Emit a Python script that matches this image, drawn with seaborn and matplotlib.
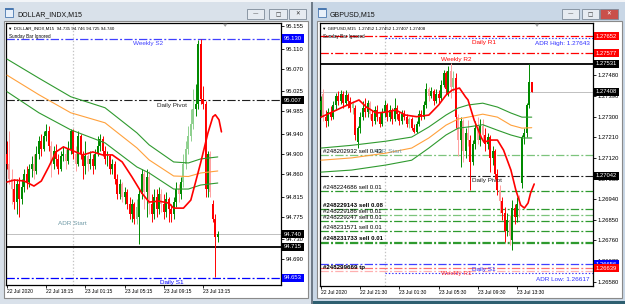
import numpy as np
import pandas as pd
import seaborn as sns
import matplotlib
matplotlib.use("Agg")
import matplotlib.pyplot as plt
from matplotlib.patches import Rectangle, Polygon
import matplotlib.transforms as mtransforms

# ---------------- DATA: DOLLAR_INDX M15 ----------------
dx_open = [94.900, 94.880, 94.850, 94.830, 94.805, 94.840, 94.810, 94.835, 94.860, 94.845,
           94.870, 94.880, 94.865, 94.900, 94.925, 94.910, 94.935, 94.945, 94.915, 94.880,
           94.905, 94.890, 94.870, 94.895, 94.900, 94.885, 94.910, 94.945, 94.900, 94.880,
           94.935, 94.900, 94.875, 94.895, 94.880, 94.890, 94.875, 94.900, 94.915, 94.930,
           94.905, 94.890, 94.895, 94.870, 94.880, 94.850, 94.820, 94.840, 94.815, 94.825,
           94.800, 94.780, 94.800, 94.770, 94.775, 94.820, 94.860, 94.825, 94.855, 94.800,
           94.780, 94.815, 94.790, 94.820, 94.800, 94.785, 94.810, 94.790, 94.780, 94.805,
           94.830, 94.820, 94.845, 94.880, 94.910, 94.935, 94.960, 94.990, 95.000, 95.120,
           95.010, 95.000, 94.830, 94.900, 94.800, 94.770, 94.735]
dx_high = [94.925, 94.945, 94.870, 94.850, 94.850, 94.855, 94.850, 94.870, 94.875, 94.880,
           94.895, 94.900, 94.915, 94.935, 94.940, 94.945, 94.960, 94.955, 94.925, 94.915,
           94.920, 94.900, 94.905, 94.915, 94.910, 94.925, 94.950, 94.950, 94.915, 94.945,
           94.940, 94.905, 94.925, 94.900, 94.905, 94.900, 94.910, 94.935, 94.940, 94.935,
           94.915, 94.905, 94.900, 94.890, 94.885, 94.860, 94.850, 94.845, 94.835, 94.830,
           94.815, 94.810, 94.805, 94.810, 94.830, 94.870, 94.865, 94.870, 94.865, 94.820,
           94.830, 94.830, 94.835, 94.830, 94.820, 94.825, 94.815, 94.800, 94.815, 94.845,
           94.840, 94.855, 94.900, 94.925, 94.955, 94.990, 95.030, 95.040, 95.127, 95.130,
           95.035, 95.005, 94.905, 94.905, 94.808, 94.780, 94.746]
dx_low = [94.870, 94.840, 94.800, 94.790, 94.780, 94.775, 94.800, 94.825, 94.830, 94.835,
          94.855, 94.850, 94.860, 94.890, 94.895, 94.905, 94.925, 94.905, 94.855, 94.870,
          94.875, 94.860, 94.865, 94.885, 94.870, 94.880, 94.900, 94.890, 94.865, 94.875,
          94.890, 94.850, 94.860, 94.865, 94.870, 94.860, 94.870, 94.895, 94.905, 94.895,
          94.880, 94.875, 94.860, 94.860, 94.840, 94.810, 94.810, 94.805, 94.800, 94.790,
          94.770, 94.765, 94.760, 94.760, 94.720, 94.810, 94.790, 94.775, 94.780, 94.765,
          94.770, 94.775, 94.780, 94.785, 94.770, 94.775, 94.765, 94.765, 94.770, 94.795,
          94.805, 94.810, 94.835, 94.870, 94.900, 94.925, 94.950, 94.975, 94.990, 95.000,
          94.990, 94.815, 94.815, 94.815, 94.765, 94.655, 94.725]
dx_close = [94.880, 94.850, 94.830, 94.805, 94.840, 94.810, 94.835, 94.860, 94.845, 94.870,
            94.880, 94.865, 94.900, 94.925, 94.910, 94.935, 94.945, 94.915, 94.880, 94.905,
            94.890, 94.870, 94.895, 94.900, 94.885, 94.910, 94.945, 94.900, 94.880, 94.935,
            94.900, 94.875, 94.895, 94.880, 94.890, 94.875, 94.900, 94.915, 94.930, 94.905,
            94.890, 94.895, 94.870, 94.880, 94.850, 94.820, 94.840, 94.815, 94.825, 94.800,
            94.780, 94.800, 94.770, 94.795, 94.820, 94.860, 94.825, 94.855, 94.800, 94.780,
            94.815, 94.790, 94.820, 94.800, 94.785, 94.810, 94.790, 94.780, 94.805, 94.830,
            94.820, 94.845, 94.880, 94.910, 94.935, 94.960, 94.990, 95.000, 95.120, 95.010,
            95.000, 94.830, 94.900, 94.825, 94.770, 94.735, 94.740]

# envelope / moving averages (bar index, value)
dx_env_bars = [0, 13, 26, 40, 53, 58, 68, 74, 79, 86]
dx_env_upper = [95.089, 95.051, 95.014, 94.992, 94.942, 94.918, 94.884, 94.882, 94.890, 94.894]
dx_env_mid = [95.057, 95.018, 94.982, 94.962, 94.912, 94.888, 94.856, 94.855, 94.862, 94.866]
dx_env_lower = [95.024, 94.982, 94.948, 94.922, 94.874, 94.862, 94.830, 94.830, 94.838, 94.842]
dx_ma_bars = [0, 3, 7, 11, 14, 17, 20, 23, 27, 31, 35, 39, 43, 47, 51, 55, 58, 62, 66, 68,
              72, 75, 79, 82, 84, 85, 86.5, 87.5]
dx_ma = [94.844, 94.848, 94.846, 94.836, 94.846, 94.874, 94.904, 94.914, 94.906, 94.898,
         94.904, 94.898, 94.898, 94.884, 94.854, 94.822, 94.804, 94.806, 94.802, 94.792,
         94.792, 94.808, 94.882, 94.942, 94.974, 94.978, 94.968, 94.944]

dx_yticks = [95.155, 95.110, 95.070, 95.025, 94.985, 94.940, 94.900, 94.860, 94.815,
             94.775, 94.730, 94.690, 94.649]
dx_time_bars = [0, 16, 32, 48, 64, 80]
dx_time_labels = ["22 Jul 2020", "22 Jul 18:15", "23 Jul 01:15", "23 Jul 05:15",
                  "23 Jul 09:15", "23 Jul 13:15"]
dx_weekly_s2 = 95.130
dx_daily_pivot = 95.007
dx_bid = 94.740
dx_level = 94.715
dx_daily_s1 = 94.653
dx_adr_start = 94.761
dx_header = "\u25bc DOLLAR_INDX,M15  94.735 94.746 94.725 94.740"

# ---------------- DATA: GBPUSD M15 ----------------
gu_open = [1.27330, 1.27400, 1.27300, 1.27280, 1.27320, 1.27300, 1.27350, 1.27390, 1.27370, 1.27400,
           1.27360, 1.27395, 1.27370, 1.27340, 1.27340, 1.27190, 1.27250, 1.27300, 1.27340, 1.27320,
           1.27360, 1.27310, 1.27280, 1.27330, 1.27300, 1.27270, 1.27320, 1.27350, 1.27300, 1.27330,
           1.27290, 1.27340, 1.27310, 1.27280, 1.27310, 1.27300, 1.27270, 1.27290, 1.27250, 1.27235,
           1.27270, 1.27310, 1.27300, 1.27350, 1.27420, 1.27390, 1.27410, 1.27370, 1.27400, 1.27380,
           1.27440, 1.27490, 1.27400, 1.27500, 1.27430, 1.27470, 1.27300, 1.27200, 1.27280, 1.27150,
           1.27230, 1.27200, 1.27100, 1.27180, 1.27250, 1.27200, 1.27260, 1.27220, 1.27180, 1.27210,
           1.27120, 1.27150, 1.27050, 1.26980, 1.26930, 1.26880, 1.26800, 1.26850, 1.26760, 1.26900,
           1.26860, 1.26920, 1.27010, 1.27210, 1.27230, 1.27350, 1.27452]
gu_high = [1.27390, 1.27420, 1.27330, 1.27340, 1.27345, 1.27370, 1.27405, 1.27410, 1.27416, 1.27410,
           1.27416, 1.27405, 1.27385, 1.27370, 1.27350, 1.27260, 1.27320, 1.27370, 1.27381, 1.27375,
           1.27370, 1.27330, 1.27345, 1.27350, 1.27320, 1.27340, 1.27375, 1.27360, 1.27350, 1.27340,
           1.27381, 1.27350, 1.27320, 1.27330, 1.27330, 1.27310, 1.27300, 1.27300, 1.27270, 1.27280,
           1.27330, 1.27330, 1.27370, 1.27446, 1.27430, 1.27430, 1.27420, 1.27420, 1.27415, 1.27460,
           1.27504, 1.27500, 1.27520, 1.27534, 1.27500, 1.27490, 1.27310, 1.27300, 1.27290, 1.27250,
           1.27285, 1.27220, 1.27200, 1.27280, 1.27298, 1.27290, 1.27290, 1.27250, 1.27230, 1.27220,
           1.27170, 1.27160, 1.27070, 1.27000, 1.26950, 1.26905, 1.26880, 1.26870, 1.26936, 1.26920,
           1.26950, 1.26960, 1.27220, 1.27250, 1.27360, 1.27531, 1.27452]
gu_low = [1.27300, 1.27280, 1.27255, 1.27260, 1.27285, 1.27290, 1.27330, 1.27350, 1.27355, 1.27340,
          1.27350, 1.27340, 1.27320, 1.27310, 1.27200, 1.27163, 1.27230, 1.27285, 1.27300, 1.27300,
          1.27290, 1.27260, 1.27270, 1.27280, 1.27255, 1.27260, 1.27300, 1.27280, 1.27280, 1.27270,
          1.27280, 1.27290, 1.27265, 1.27270, 1.27285, 1.27255, 1.27250, 1.27240, 1.27228, 1.27230,
          1.27260, 1.27285, 1.27290, 1.27340, 1.27370, 1.27380, 1.27350, 1.27360, 1.27360, 1.27370,
          1.27430, 1.27400, 1.27390, 1.27380, 1.27410, 1.27250, 1.27130, 1.27080, 1.27100, 1.27120,
          1.27170, 1.26980, 1.27090, 1.27160, 1.27180, 1.27170, 1.27190, 1.27150, 1.27160, 1.27060,
          1.27090, 1.27030, 1.26960, 1.26880, 1.26849, 1.26752, 1.26780, 1.26740, 1.26717, 1.26830,
          1.26840, 1.26860, 1.26990, 1.27180, 1.27210, 1.27340, 1.27407]
gu_close = [1.27370, 1.27300, 1.27280, 1.27320, 1.27300, 1.27350, 1.27390, 1.27370, 1.27400, 1.27360,
            1.27395, 1.27370, 1.27340, 1.27355, 1.27220, 1.27250, 1.27300, 1.27340, 1.27320, 1.27360,
            1.27310, 1.27280, 1.27330, 1.27300, 1.27270, 1.27320, 1.27350, 1.27300, 1.27330, 1.27290,
            1.27340, 1.27310, 1.27280, 1.27310, 1.27300, 1.27270, 1.27290, 1.27250, 1.27235, 1.27270,
            1.27310, 1.27300, 1.27350, 1.27420, 1.27390, 1.27410, 1.27370, 1.27400, 1.27380, 1.27440,
            1.27490, 1.27420, 1.27500, 1.27430, 1.27470, 1.27300, 1.27200, 1.27280, 1.27150, 1.27230,
            1.27200, 1.27100, 1.27180, 1.27250, 1.27200, 1.27260, 1.27220, 1.27180, 1.27210, 1.27120,
            1.27150, 1.27050, 1.26980, 1.26930, 1.26880, 1.26800, 1.26850, 1.26780, 1.26900, 1.26860,
            1.26920, 1.26880, 1.27210, 1.27230, 1.27350, 1.27452, 1.27408]

gu_env_bars = [0, 12.5, 26.5, 37, 44, 51, 56, 60, 66, 72, 77.5, 82, 86]
gu_env_upper = [1.27163, 1.27175, 1.27193, 1.27211, 1.27255, 1.27307, 1.27338, 1.27351, 1.27359,
                1.27342, 1.27316, 1.27298, 1.27298]
gu_env_mid = [1.27110, 1.27120, 1.27141, 1.27163, 1.27207, 1.27263, 1.27290, 1.27298, 1.27311,
              1.27298, 1.27263, 1.27250, 1.27252]
gu_env_lower = [1.27058, 1.27067, 1.27089, 1.27110, 1.27163, 1.27220, 1.27250, 1.27255, 1.27265,
                1.27241, 1.27220, 1.27207, 1.27207]
gu_ma_bars = [0, 4.5, 8.5, 12.5, 15.5, 18.5, 22.5, 26.5, 30.5, 34.5, 39, 44, 48, 51, 53.5, 56.5,
              59, 60, 62.5, 65.5, 66.5, 69.5, 72, 74.5, 77.5, 79.5, 81.5, 83, 84.5, 85.5, 87]
gu_ma = [1.27298, 1.27320, 1.27340, 1.27359, 1.27373, 1.27342, 1.27316, 1.27320, 1.27329, 1.27307,
         1.27300, 1.27307, 1.27351, 1.27394, 1.27416, 1.27425, 1.27386, 1.27373, 1.27285, 1.27207,
         1.27189, 1.27198, 1.27198, 1.27154, 1.27067, 1.26980, 1.26914, 1.26901, 1.26923, 1.26966,
         1.27006]

gu_yticks = [1.27480, 1.27390, 1.27300, 1.27210, 1.27120, 1.27030, 1.26940, 1.26850, 1.26760,
             1.26670, 1.26580]
gu_time_bars = [0, 16, 32, 48, 64, 80]
gu_time_labels = ["22 Jul 2020", "22 Jul 21:30", "23 Jul 01:30", "23 Jul 05:30",
                  "23 Jul 09:30", "23 Jul 13:30"]
gu_daily_r1 = 1.27652
gu_adr_high = 1.27643
gu_weekly_r2 = 1.27577
gu_level = 1.27531
gu_bid = 1.27408
gu_daily_pivot = 1.27042
gu_daily_s1 = 1.26656
gu_weekly_r1 = 1.26639
gu_tp = 1.26626
gu_adr_low = 1.26617
gu_adr_start = 1.27139
gu_orders = ["#248202932 sell 0.43", "#248224686 sell 0.01", "#248229143 sell 0.08",
             "#248229186 sell 0.01", "#248229247 sell 0.01", "#248231571 sell 0.01",
             "#248231733 sell 0.01"]
gu_order_prices = [1.27132, 1.26976, 1.26897, 1.26872, 1.26844, 1.26801, 1.26754]
gu_header = "\u25bc GBPUSD,M15  1.27452 1.27452 1.27407 1.27408"

# ---------------- STYLE ----------------
W, H = 625, 304
sns.set_style("white")
plt.rcParams["font.family"] = ["Liberation Sans", "DejaVu Sans"]
plt.rcParams["lines.scale_dashes"] = False

DASHDOT = (0, (6, 1.6, 1.4, 1.6))
DOTTED = (0, (1, 1.4))
GREEN = "#008a00"
PALE_GREEN = "#8fd08f"
RED = "#ff0000"
PALE_RED = "#ffa0a0"
dx_pale = [1, 2, 11, 18, 24, 28, 33, 47, 53, 56, 58, 63, 70, 72, 73, 74, 75, 76, 83]
gu_pale = [1, 13, 20, 36, 44, 53, 54, 56, 58, 60, 64, 66, 73, 77, 81]

fig = plt.figure(figsize=(W / 100, H / 100), dpi=100)
fig.patch.set_facecolor("#dce4ec")


def frect(x0, y0, x1, y1, z=-5, **kw):
    fig.add_artist(Rectangle((x0 / W, 1 - y1 / H), (x1 - x0) / W, (y1 - y0) / H,
                             transform=fig.transFigure, zorder=z, **kw))


def ftext(x, y, s, **kw):
    fig.text(x / W, 1 - y / H, s, **kw)


# window chrome (behind the axes)
frect(0, 0, 311, 304, fc="#d9e1ea", ec="none", z=-10)
frect(313, 0, 625, 304, fc="#c9d7e6", ec="none", z=-10)
frect(311, 0, 313, 304, fc="#6f7b88", ec="none", z=-9)
frect(0, 0, 625, 1.5, fc="#f3f5f8", ec="none", z=-9)
frect(313, 301, 625, 304, fc="#2e5f70", ec="none", z=-9)
frect(4, 21, 308, 298, fc="white", ec="#8a8a8a", lw=0.8, z=-8)
frect(317, 21, 622, 298, fc="white", ec="#8a8a8a", lw=0.8, z=-8)


def window_title(x0, title, bx, active):
    frect(x0 + 5, 8, x0 + 13, 17, fc="#e8f0fa", ec="#4a78b0", lw=0.6, z=-7)
    frect(x0 + 5, 8, x0 + 13, 10, fc="#4a78b0", ec="none", z=-7)
    ftext(x0 + 17, 14.5, title, fontsize=5, va="center", ha="left", color="#101010")
    for i, (b0, b1) in enumerate(bx):
        fc = "#c9504a" if (active and i == 2) else "#e6ebf1"
        frect(b0, 9, b1, 19, fc=fc, ec="#7d8a99", lw=0.6, z=-7)
        cx = (b0 + b1) / 2
        gc = "white" if (active and i == 2) else "#333333"
        g = ["\u2014", "\u25a1", "\u2715"][i]
        ftext(cx, 14.2, g, fontsize=4, ha="center", va="center", color=gc,
              family=["DejaVu Sans"])


window_title(0, "DOLLAR_INDX,M15", [(247, 264), (269, 287), (289, 306)], False)
window_title(313, "GBPUSD,M15", [(562, 579), (582, 599), (600, 618)], True)


def make_axes(x0, y0, x1, y1):
    ax = fig.add_axes([x0 / W, 1 - y1 / H, (x1 - x0) / W, (y1 - y0) / H])
    ax.set_facecolor("white")
    for s in ax.spines.values():
        s.set_color("black")
        s.set_linewidth(0.9)
        s.set_visible(True)
    return ax


def draw_candles(ax, o, h, l, c, pale):
    df = pd.DataFrame({"bar": np.arange(len(o)), "open": o, "high": h, "low": l, "close": c})
    up = df["close"] >= df["open"]
    cols = []
    for i, u in enumerate(up):
        if i in pale:
            cols.append(PALE_GREEN if u else PALE_RED)
        else:
            cols.append(GREEN if u else RED)
    ax.vlines(df["bar"], df["low"], df["high"], colors=cols, lw=0.7, zorder=3)
    rng = (df["high"].max() - df["low"].min())
    body = np.maximum((df["close"] - df["open"]).abs(), rng * 0.004)
    ax.bar(df["bar"], body, bottom=np.minimum(df["open"], df["close"]), width=0.8,
           color=cols, linewidth=0, zorder=3)


def draw_lines(ax, env_bars, up, mid, lo, ma_bars, ma):
    env = pd.DataFrame({"bar": env_bars, "upper": up, "mid": mid, "lower": lo})
    sns.lineplot(data=env, x="bar", y="upper", ax=ax, color="#2f9a2f", lw=0.8, zorder=4)
    sns.lineplot(data=env, x="bar", y="mid", ax=ax, color="#ffa13c", lw=0.8, zorder=4)
    sns.lineplot(data=env, x="bar", y="lower", ax=ax, color="#2f9a2f", lw=0.8, zorder=4)
    mdf = pd.DataFrame({"bar": ma_bars, "ma": ma})
    sns.lineplot(data=mdf, x="bar", y="ma", ax=ax, color=RED, lw=1.2, zorder=5)


def setup_axis(ax, xlim, ylim, yticks, fmt, tbars, tlabels):
    ax.set_xlim(*xlim)
    ax.set_ylim(*ylim)
    ax.set_xlabel("")
    ax.set_ylabel("")
    ax.yaxis.tick_right()
    ax.set_yticks(yticks)
    ax.set_yticklabels([fmt.format(v) for v in yticks])
    ax.set_xticks(tbars)
    ax.set_xticklabels(tlabels, ha="left")
    ax.tick_params(axis="y", right=True, left=False, direction="out", length=2, width=0.6,
                   pad=1.5, labelsize=4.2, colors="black")
    ax.tick_params(axis="x", bottom=True, direction="out", length=2.2, width=0.6, pad=0.8,
                   labelsize=3.6, colors="black")
    for t in ax.get_xticklabels():
        t.set_horizontalalignment("left")


def blend(ax):
    return mtransforms.blended_transform_factory(ax.transAxes, ax.transData)


def hline(ax, y, color, ls="-", lw=0.8, x0=0.0, z=2):
    ax.plot([x0, 1], [y, y], transform=blend(ax), color=color, ls=ls, lw=lw, zorder=z,
            solid_capstyle="butt")


def label(ax, xf, y, s, color, dy=-5, ha="center", size=4.6, weight="normal", va="center"):
    ax.annotate(s, xy=(xf, y), xycoords=blend(ax), xytext=(0, dy), textcoords="offset pixels",
                ha=ha, va=va, fontsize=size, color=color, fontweight=weight,
                annotation_clip=False, zorder=7)


def pbox(ax, y, s, fc):
    ax.annotate(s, xy=(1, y), xycoords=blend(ax), xytext=(3, 0), textcoords="offset pixels",
                ha="left", va="center", fontsize=4.2, color="white",
                bbox=dict(boxstyle="square,pad=0.28", fc=fc, ec="none"),
                annotation_clip=False, zorder=8)


def shift_marker(ax, xf):
    ax.add_patch(Polygon([[xf - 0.008, 0.997], [xf + 0.008, 0.997], [xf, 0.985]],
                         closed=True, transform=ax.transAxes, fc="#a0a0a0", ec="none",
                         clip_on=False, zorder=6))


# ---------------- LEFT CHART ----------------
axL = make_axes(6, 23, 281, 285)
draw_candles(axL, dx_open, dx_high, dx_low, dx_close, dx_pale)
draw_lines(axL, dx_env_bars, dx_env_upper, dx_env_mid, dx_env_lower, dx_ma_bars, dx_ma)
setup_axis(axL, (-0.41, 111.8), (94.6388, 95.1609), dx_yticks, "{:.3f}",
           dx_time_bars, dx_time_labels)
axL.axvline(26.9, color="#c4c4c4", ls=DOTTED, lw=0.9, zorder=1)
hline(axL, dx_weekly_s2, "#4040ff", DASHDOT, 0.9)
hline(axL, dx_daily_pivot, "#202020", DASHDOT, 0.8)
hline(axL, dx_bid, "#c0c0c0", "-", 0.7)
hline(axL, dx_level, "black", "-", 1.3)
hline(axL, dx_daily_s1, "#0000ff", DASHDOT, 0.9)
label(axL, 0.516, dx_weekly_s2, "Weekly S2", "#4040ff", dy=-5)
label(axL, 0.604, dx_daily_pivot, "Daily Pivot", "#202020", dy=-5)
label(axL, 0.604, dx_daily_s1, "Daily S1", "#0000ff", dy=-5)
axL.text(0.242, dx_adr_start, "ADR Start", transform=blend(axL), ha="center", va="center",
         fontsize=4.6, color="#6f9aa6", zorder=7)
axL.text(0.008, 0.98, dx_header, transform=axL.transAxes, ha="left", va="center",
         fontsize=3.15, color="black", zorder=7)
axL.text(0.01, 0.948, "Sunday Bar Ignored", transform=axL.transAxes, ha="left", va="center",
         fontsize=3.3, color="black", zorder=7)
shift_marker(axL, 0.797)
pbox(axL, dx_weekly_s2, "95.130", "#0000ff")
pbox(axL, dx_daily_pivot, "95.007", "black")
pbox(axL, dx_bid, "94.740", "black")
pbox(axL, dx_level, "94.715", "black")
pbox(axL, dx_daily_s1, "94.653", "#0000ff")

# ---------------- RIGHT CHART ----------------
axR = make_axes(320, 23, 593, 286)
draw_candles(axR, gu_open, gu_high, gu_low, gu_close, gu_pale)
draw_lines(axR, gu_env_bars, gu_env_upper, gu_env_mid, gu_env_lower, gu_ma_bars, gu_ma)
setup_axis(axR, (-0.41, 111.0), (1.265608, 1.277090), gu_yticks, "{:.5f}",
           gu_time_bars, gu_time_labels)
axR.axvline(26.1, color="#c4c4c4", ls=DOTTED, lw=0.9, zorder=1)
sep_frac = (385 - 320) / 273
hline(axR, gu_daily_r1, RED, DASHDOT, 0.9)
hline(axR, gu_adr_high, "#3030ff", DOTTED, 0.8, x0=sep_frac)
hline(axR, gu_weekly_r2, RED, DASHDOT, 0.9)
hline(axR, gu_level, "black", "-", 1.3)
hline(axR, gu_bid, "#c0c0c0", "-", 0.7)
hline(axR, gu_daily_pivot, "#202020", DASHDOT, 0.8)
order_cols = ["#7cc47c", "#2e9a2e", "#2e9a2e", "#7cc47c", "#2e9a2e", "#2e9a2e", "#2e9a2e"]
for price, col in zip(gu_order_prices, order_cols):
    hline(axR, price, col, DASHDOT, 0.9)
hline(axR, gu_order_prices[-1] - 0.00007, "#2e9a2e", DASHDOT, 0.9)
hline(axR, gu_daily_s1, "#4040ff", DASHDOT, 0.9)
hline(axR, gu_weekly_r1, "#ff7070", DASHDOT, 0.9)
hline(axR, gu_tp, "#ffb0b0", DASHDOT, 0.9)
hline(axR, gu_adr_low, "#3030ff", DOTTED, 0.8, x0=sep_frac)
label(axR, 0.60, gu_daily_r1, "Daily R1", RED, dy=-6)
label(axR, 0.988, gu_adr_high, "ADR High: 1.27643", "#3030ff", dy=-5, ha="right")
label(axR, 0.50, gu_weekly_r2, "Weekly R2", RED, dy=-6)
label(axR, 0.61, gu_daily_pivot, "Daily Pivot", "#202020", dy=-5)
label(axR, 0.60, gu_daily_s1, "Daily S1", "#3030ff", dy=-5)
label(axR, 0.50, gu_weekly_r1, "Weekly R1", "#ff3030", dy=-5)
label(axR, 0.988, gu_adr_low, "ADR Low: 1.26617", "#3030ff", dy=-6, ha="right")
axR.text(0.245, gu_adr_start, "ADR Start", transform=blend(axR), ha="center", va="bottom",
         fontsize=4.6, color="#6f9aa6", zorder=6)
bold_orders = {2, 6}
for i, (name, price) in enumerate(zip(gu_orders, gu_order_prices)):
    label(axR, 0.011, price, name, "black", dy=1, ha="left", size=4.4, va="bottom",
          weight="bold" if i in bold_orders else "normal")
label(axR, 0.011, gu_tp, "#248299669 tp", "black", dy=1, ha="left", size=4.4, va="bottom",
      weight="bold")
axR.text(0.008, 0.98, gu_header, transform=axR.transAxes, ha="left", va="center",
         fontsize=3.15, color="black", zorder=7)
axR.text(0.01, 0.948, "Sunday Bar Ignored", transform=axR.transAxes, ha="left", va="center",
         fontsize=3.3, color="black", zorder=7)
shift_marker(axR, 0.795)
pbox(axR, gu_daily_r1, "1.27652", "#ff0000")
pbox(axR, gu_weekly_r2, "1.27577", "#ff0000")
pbox(axR, gu_level, "1.27531", "black")
pbox(axR, gu_bid, "1.27408", "black")
pbox(axR, gu_daily_pivot, "1.27042", "black")
pbox(axR, gu_daily_s1, "1.26656", "#0000ff")
pbox(axR, gu_weekly_r1, "1.26639", "#ff0000")

fig.savefig("out.png", dpi=100, facecolor=fig.get_facecolor())
